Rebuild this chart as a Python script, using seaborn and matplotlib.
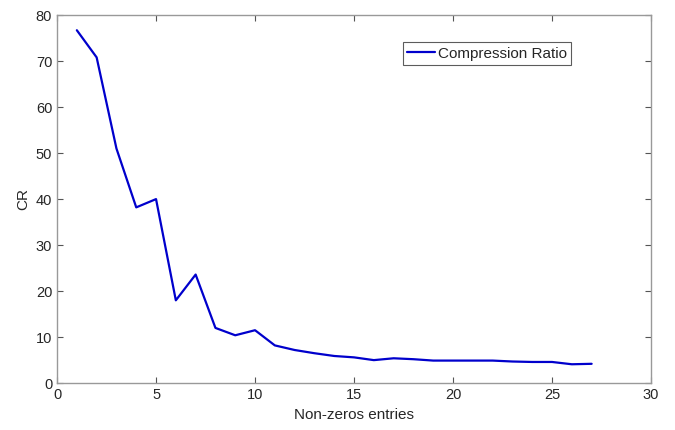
import matplotlib
matplotlib.use("Agg")
import matplotlib.pyplot as plt
import seaborn as sns
import pandas as pd

nonzeros = list(range(1, 28))
cr = [76.7, 70.8, 51.0, 38.2, 40.0, 18.0, 23.6, 12.0, 10.4, 11.5,
      8.2, 7.2, 6.5, 5.9, 5.6, 5.0, 5.4, 5.2, 4.9, 4.9,
      4.9, 4.9, 4.7, 4.6, 4.6, 4.1, 4.2]
series_name = "Compression Ratio"

df = pd.DataFrame({"Non-zeros entries": nonzeros, "CR": cr, "series": series_name})

sns.set_style("white")
plt.rcParams['font.family'] = ['Liberation Sans', 'DejaVu Sans']

fig = plt.figure(figsize=(6.75, 4.3), dpi=100)
ax = fig.add_axes([0.0845, 0.109, 0.88, 0.856])
sns.lineplot(data=df, x="Non-zeros entries", y="CR", hue="series",
             palette=["#0000CC"], linewidth=1.6, ax=ax)

ax.set_xlim(0, 30)
ax.set_ylim(0, 80)
ax.set_xticks(range(0, 31, 5))
ax.set_yticks(range(0, 81, 10))
ax.tick_params(direction="in", length=4, color="#555555", labelsize=10.5,
               labelcolor="#262626", top=True, right=True, bottom=True, left=True,
               labeltop=False, labelright=False)
for s in ax.spines.values():
    s.set_visible(True)
    s.set_color("#999999")
    s.set_linewidth(1.0)
ax.set_xlabel("Non-zeros entries", fontsize=11, color="#262626")
ax.set_ylabel("CR", fontsize=11, color="#262626")

leg = ax.legend(loc="upper left", bbox_to_anchor=(0.582, 0.927), borderaxespad=0,
                frameon=True, fancybox=False, edgecolor="#333333", fontsize=11,
                handlelength=1.8, handletextpad=0.2, borderpad=0.3)
leg.get_frame().set_linewidth(0.8)

fig.savefig("out.png", dpi=100)
